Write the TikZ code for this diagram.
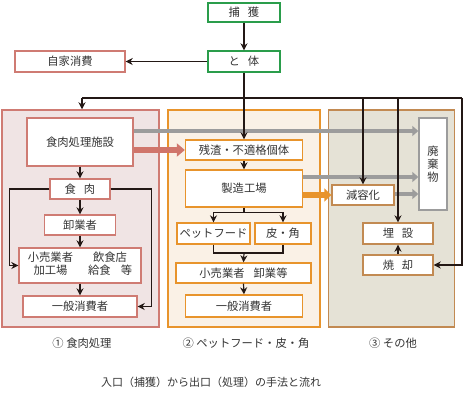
\documentclass[tikz,border=0pt]{standalone}
\usepackage{fontspec}
\newfontfamily\jp{Noto Sans CJK JP}
\usetikzlibrary{arrows.meta}
\definecolor{lk}{HTML}{231815}
\definecolor{tx}{HTML}{333333}
\definecolor{grn}{HTML}{2A9D4B}
\definecolor{pk}{HTML}{CF7B73}
\definecolor{pkfill}{HTML}{F0E4E4}
\definecolor{or}{HTML}{E8942C}
\definecolor{orfill}{HTML}{FAF1E6}
\definecolor{br}{HTML}{C28A52}
\definecolor{brfill}{HTML}{E5E2D6}
\definecolor{gy}{HTML}{9C9C9C}
\definecolor{rd}{HTML}{D0756B}
\begin{document}
\begin{tikzpicture}[x=1pt,y=-1pt,
  font=\jp\fontsize{11.3}{13}\selectfont,
  box/.style={draw, fill=white, line width=1.4pt, inner sep=0pt, align=center, text=tx},
  gbox/.style={box, draw=grn},
  pbox/.style={box, draw=pk},
  obox/.style={box, draw=or},
  bbox/.style={box, draw=br},
  panel/.style={line width=1.5pt, inner sep=0pt},
  arr/.style={draw=lk, line width=1.2pt, -{Stealth[length=7pt,width=7pt]}},
  ln/.style={draw=lk, line width=1.2pt},
  garr/.style={draw=gy, line width=3.5pt, -{Triangle[length=6pt,width=10pt]}},
  rarr/.style={draw=rd, line width=6pt, -{Triangle[length=8pt,width=13pt]}},
  oarr/.style={draw=or, line width=6pt, -{Triangle[length=7pt,width=13pt]}},
  lbl/.style={text=tx, inner sep=0pt}
]
\useasboundingbox (0,0) rectangle (465,408);
% panels
\node[panel, draw=pk, fill=pkfill, minimum width=157pt, minimum height=217pt] (p1) at (80.5,218.5) {};
\node[panel, draw=or, fill=orfill, minimum width=152pt, minimum height=217pt] (p2) at (244,218.5) {};
\node[panel, draw=br, fill=brfill, minimum width=126pt, minimum height=217pt] (p3) at (391.5,218.5) {};
% top boxes
\node[gbox, minimum width=72pt, minimum height=19pt] (hokaku) at (244,12.5) {捕\hspace{0.7em}獲};
\node[gbox, minimum width=72pt, minimum height=21pt] (toutai) at (244,61.5) {と\hspace{0.7em}体};
\node[pbox, minimum width=110pt, minimum height=21pt] (jika) at (70,61.5) {自家消費};
% panel 1 boxes
\node[pbox, minimum width=106pt, minimum height=48pt] (shisetsu) at (80,142) {食肉処理施設};
\node[pbox, minimum width=60pt, minimum height=20pt] (niku) at (80,189) {食\hspace{0.7em}肉};
\node[pbox, minimum width=71pt, minimum height=20pt] (oroshi) at (80,225) {卸業者};
\node[pbox, minimum width=122pt, minimum height=35pt] (kouri1) at (80,265.5)
  {\fontsize{11.3}{14}\selectfont\begin{tabular}{@{}c@{\hspace{15pt}}c@{}}小売業者 & 飲食店\\[-1pt] 加工場 & 給食\hspace{0.9em}等\end{tabular}};
\node[pbox, minimum width=114pt, minimum height=21pt] (ippan1) at (80,306.5) {一般消費者};
% panel 2 boxes
\node[obox, minimum width=117pt, minimum height=20pt] (zansa) at (244,150) {残渣・不適格個体};
\node[obox, minimum width=117pt, minimum height=37pt] (seizou) at (244,188.5) {製造工場};
\node[obox, minimum width=73pt, minimum height=21pt] (pet) at (213.5,233.5) {ペットフード};
\node[obox, minimum width=56pt, minimum height=21pt] (kawa) at (283,233.5) {皮・角};
\node[obox, minimum width=135pt, minimum height=20pt] (kouri2) at (243.5,273) {小売業者\hspace{0.8em}卸業等};
\node[obox, minimum width=117pt, minimum height=22pt] (ippan2) at (244,306) {一般消費者};
% panel 3 boxes
\node[box, draw=gy, minimum width=28pt, minimum height=92pt] (haiki) at (433,164) {\fontsize{11.3}{15.5}\selectfont 廃\\棄\\物};
\node[bbox, minimum width=62pt, minimum height=20pt] (genyou) at (363,195) {減容化};
\node[bbox, minimum width=70pt, minimum height=21pt] (maisetsu) at (398,233.5) {埋\hspace{0.7em}設};
\node[bbox, minimum width=70pt, minimum height=20pt] (shoukyaku) at (398,265) {焼\hspace{0.7em}却};
% thick arrows
\coordinate (g1) at (0,131);
\coordinate (g2) at (0,177);
\coordinate (g3) at (0,194);
\coordinate (r1) at (0,150);
\draw[garr] (shisetsu.east |- g1) -- (haiki.west |- g1);
\draw[garr] (seizou.east |- g2) -- (haiki.west |- g2);
\draw[garr] (genyou.east |- g3) -- (haiki.west |- g3);
\draw[rarr] (shisetsu.east |- r1) -- (zansa.west);
\draw[oarr] (seizou.east |- genyou.west) -- (genyou.west);
% black connectors
\coordinate (busL) at (82,98);
\coordinate (busA) at (363,98);
\coordinate (busB) at (398,98);
\coordinate (busR) at (462,98);
\draw[arr] (hokaku.south) -- (toutai.north);
\draw[arr] (toutai.west) -- (jika.east);
\draw[arr] (toutai.south) -- (zansa.north);
\draw[ln] (busL) -- (busR);
\draw[arr] (busL) -- (busL |- p1.north);
\draw[arr] (busA) -- (genyou.north);
\draw[arr] (busB) -- (maisetsu.north);
\draw[arr] (busR) |- (shoukyaku.east);
% panel 1
\draw[arr] (shisetsu.south) -- (niku.north);
\draw[arr] (niku.south) -- (oroshi.north);
\draw[arr] (oroshi.south) -- (kouri1.north);
\draw[arr] (kouri1.south) -- (ippan1.north);
\draw[arr] (niku.west) -- ++(-40,0) |- (kouri1.west);
\draw[arr] (niku.east) -- ++(41,0) |- (ippan1.east);
% panel 2
\draw[arr] (zansa.south) -- (seizou.north);
\draw[ln] (seizou.south) -- ++(0,5) coordinate (s1);
\draw[arr] (s1) -| (pet.north);
\draw[arr] (s1) -| (kawa.north);
\coordinate (b1) at (244,253);
\draw[ln] (pet.south) |- (b1) -| (kawa.south);
\draw[arr] (b1) -- (kouri2.north);
\draw[arr] (kouri2.south) -- (ippan2.north);
% panel 3
\draw[arr] (shoukyaku.north) -- (maisetsu.south);
% labels
\node[lbl] (l1) at (82,343) {① 食肉処理};
\node[lbl] (l2) at (246,343) {② ペットフード・皮・角};
\node[lbl] (l3) at (393,343) {③ その他};
\node[lbl, font=\jp\fontsize{11}{13}\selectfont] (title) at (211,382) {入口（捕獲）から出口（処理）の手法と流れ};
\end{tikzpicture}
\end{document}
